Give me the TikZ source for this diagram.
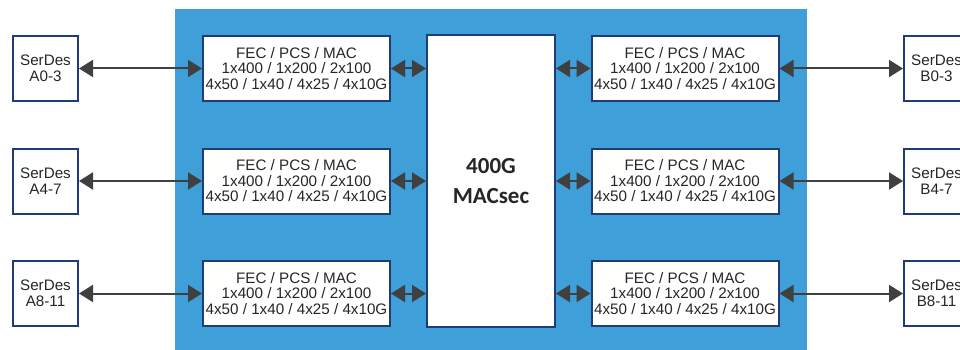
\documentclass[tikz,border=0pt]{standalone}
\usepackage{fontspec}
\setmainfont{Liberation Sans}
\newfontfamily\macfont{Carlito}
\usetikzlibrary{positioning,arrows.meta}
\definecolor{chipblue}{HTML}{3E9FD9}
\definecolor{boxnavy}{HTML}{1F3C78}
\definecolor{arrowgray}{HTML}{404040}
\definecolor{txtgray}{HTML}{262626}

\begin{document}
\begin{tikzpicture}[x=1pt,y=-1pt,
    blk/.style={draw=boxnavy,line width=2pt,fill=white,inner sep=0pt,align=center,
      text=txtgray,font=\fontsize{15.2}{15.5}\selectfont},
    serbox/.style={blk,minimum width=65pt,minimum height=65pt},
    fecbox/.style={blk,minimum width=187pt,minimum height=65pt},
    link/.style={{Triangle[length=14pt,width=17pt]}-{Triangle[length=14pt,width=17pt]},
      line width=2pt,draw=arrowgray,fill=arrowgray}]
    \clip (0,0) rectangle (960,350);
    % --- chip area ---
    \fill[chipblue] (175,9) rectangle (807,355);
    % --- MACsec core ---
    \node[blk,minimum width=128pt,minimum height=292pt,
      font=\macfont\bfseries\fontsize{23}{30}\selectfont] (macsec) at (491,181) {400G\\MACsec};
    % --- three rows of ports ---
    \foreach \i/\y/\a/\b in {1/68.5/A0-3/B0-3,2/181/A4-7/B4-7,3/293.5/A8-11/B8-11}{
      \node[serbox] (serA\i) at (45.5,\y) {SerDes\\\a};
      \node[fecbox] (fecL\i) at (296.5,\y) {FEC / PCS / MAC\\1x400 / 1x200 / 2x100\\4x50 / 1x40 / 4x25 / 4x10G};
      \node[fecbox] (fecR\i) at (685,\y) {FEC / PCS / MAC\\1x400 / 1x200 / 2x100\\4x50 / 1x40 / 4x25 / 4x10G};
      \node[serbox] (serB\i) at (936.5,\y) {SerDes\\\b};
      % connectors
      \draw[link] (serA\i.east) -- (fecL\i.west);
      \draw[link] (fecL\i.east) -- (fecL\i.east -| macsec.west);
      \draw[link] (fecR\i.west -| macsec.east) -- (fecR\i.west);
      \draw[link] (fecR\i.east) -- (serB\i.west);
    }
  \end{tikzpicture}
\end{document}
